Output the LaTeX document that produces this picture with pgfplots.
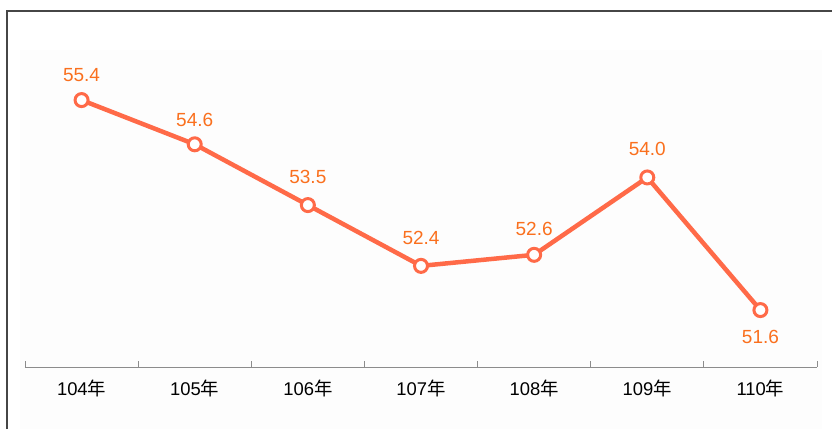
\documentclass[border=0pt]{standalone}
\usepackage{pgfplots}
\pgfplotsset{compat=1.18}
\usepackage{fontspec}
\setmainfont{Liberation Sans}
\newfontfamily\cjk{Noto Sans CJK TC}
\definecolor{linec}{RGB}{255,106,72}
\definecolor{labc}{RGB}{250,112,30}
\definecolor{axc}{RGB}{140,140,140}
\definecolor{bordc}{RGB}{70,70,70}
\definecolor{bgc}{RGB}{253,253,253}
\begin{document}
\begin{tikzpicture}
\path[use as bounding box] (0,0) rectangle (832pt,429pt);
\fill[bgc] (20pt,0pt) rectangle (822pt,379pt);
\draw[bordc,line width=2pt] (7pt,0pt) -- (7pt,418pt) -- (832pt,418pt);
\begin{axis}[
  at={(25pt,62pt)}, anchor=south west,
  scale only axis, width=792pt, height=327.7pt,
  xmin=-0.5, xmax=6.5, ymin=50.57, ymax=56.5,
  axis y line=none, axis x line*=bottom,
  axis line style={axc, line width=0.8pt},
  xtick={0,...,6},
  xticklabels={104{\cjk 年},105{\cjk 年},106{\cjk 年},107{\cjk 年},108{\cjk 年},109{\cjk 年},110{\cjk 年}},
  major tick length=0pt,
  minor xtick={-0.5,0.5,...,6.5},
  minor tick length=6pt,
  tick align=inside,
  minor tick style={axc, line width=0.8pt},
  xticklabel style={font=\fontsize{18.4}{20}\selectfont, text=black, yshift=-9pt},
  clip=false,
  /pgf/number format/assume math mode=true,
]
\addplot[
  linec, line width=4.5pt, mark=*, mark size=6.5pt,
  mark options={fill=white, draw=linec, line width=3pt},
  point meta=explicit,
  visualization depends on={value \thisrow{dy}\as\mydy},
  nodes near coords={\pgfmathprintnumber[fixed,fixed zerofill,precision=1]{\pgfplotspointmeta}},
  every node near coord/.append style={anchor=center, yshift=\mydy pt, text=labc, font=\fontsize{19}{21}\selectfont},
] table[x=x, y=y, meta=y] {
x y dy
0 55.4 25
1 54.6 24
2 53.5 28
3 52.4 28
4 52.6 26
5 54.0 28
6 51.6 -27
};
\end{axis}
\end{tikzpicture}
\end{document}
